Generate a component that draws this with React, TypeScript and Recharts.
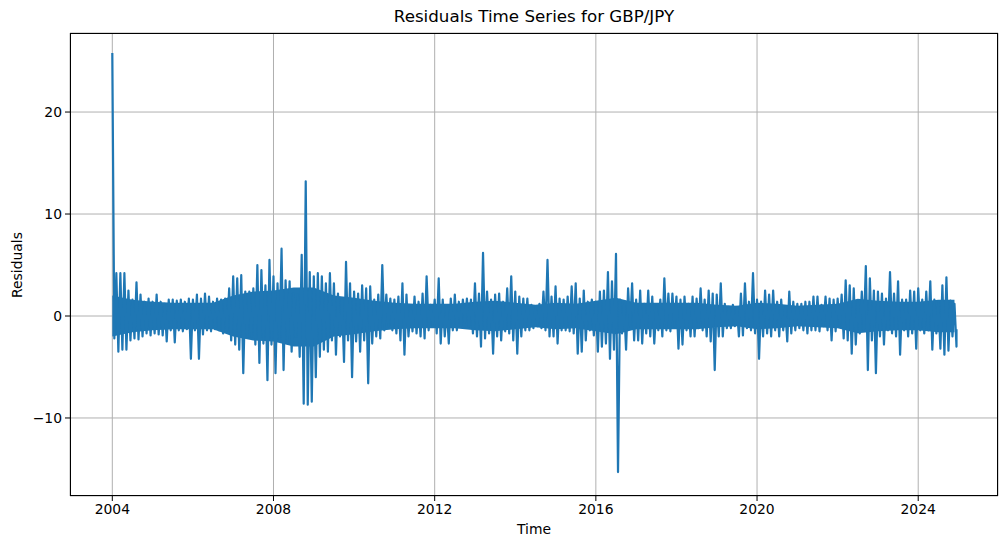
import React from "react"
import { Area, CartesianGrid, ComposedChart, Line, XAxis, YAxis } from "recharts"

// residuals, one high / low pair per 0.1 year, from 2004.0
const START_YEAR = 2004
const STEP = 0.1

const highs = [
  25.8, 4.2, 4.2, 4.2, 2.5, 1.6, 3.3, 2.1, 1.4, 1.7,
  1.4, 2.1, 1.4, 1.2, 1.6, 1.6, 1.5, 1.6, 1.4, 1.7,
  1.6, 2.1, 1.7, 2.2, 1.9, 1.4, 1.7, 1.6, 1.7, 2.7,
  3.9, 3.7, 4.0, 2.4, 2.4, 2.7, 5.0, 4.5, 3.0, 5.5,
  3.9, 3.2, 6.6, 3.5, 3.4, 2.2, 2.1, 6.0, 13.2, 4.3,
  3.9, 4.2, 3.9, 3.2, 4.2, 3.2, 2.2, 1.6, 5.3, 3.2,
  2.4, 2.2, 3.0, 2.7, 2.9, 1.6, 2.1, 5.0, 2.1, 1.7,
  1.6, 1.9, 3.2, 2.1, 0.9, 1.9, 1.4, 2.2, 3.9, 1.1,
  1.6, 3.7, 1.6, 0.9, 1.7, 2.1, 1.4, 1.6, 1.7, 1.6,
  3.2, 2.2, 6.2, 2.4, 1.6, 2.1, 2.2, 1.4, 2.7, 3.9,
  2.4, 1.9, 1.7, 1.7, 1.1, 0.9, 1.2, 2.4, 5.5, 1.9,
  2.9, 1.7, 1.6, 1.9, 2.9, 3.2, 1.7, 2.5, 1.4, 1.6,
  1.4, 2.4, 2.5, 4.3, 3.4, 6.1, 1.6, 1.1, 2.7, 3.2,
  1.6, 2.5, 1.2, 2.5, 1.9, 0.9, 1.6, 3.7, 2.2, 2.2,
  1.9, 1.6, 1.9, 1.2, 1.9, 1.7, 2.7, 1.6, 2.5, 2.2,
  2.1, 3.2, 1.2, 0.9, 1.1, 0.9, 2.2, 3.2, 1.4, 4.2,
  1.6, 1.4, 2.5, 2.1, 2.5, 1.4, 1.6, 0.9, 2.4, 1.4,
  1.2, 1.2, 1.4, 1.4, 1.9, 1.9, 1.1, 1.9, 1.7, 1.6,
  1.7, 2.1, 3.5, 3.0, 2.7, 1.4, 2.4, 4.9, 3.7, 2.5,
  2.4, 2.2, 1.7, 4.3, 2.2, 3.4, 1.6, 1.6, 2.5, 2.4,
  2.7, 1.6, 2.4, 3.4, 1.6, 1.4, 3.0, 3.8, 1.5, 1.2,
]

const lows = [
  -2.2, -3.5, -3.3, -3.3, -2.4, -2.2, -2.3, -2.0, -1.7, -1.9,
  -1.7, -1.8, -1.9, -2.5, -1.4, -2.6, -1.4, -1.5, -1.3, -4.2,
  -1.4, -4.2, -1.8, -1.4, -1.5, -1.3, -1.4, -1.7, -1.4, -2.4,
  -2.8, -3.3, -5.6, -2.0, -2.0, -2.8, -4.6, -2.7, -6.3, -2.8,
  -5.6, -2.4, -5.3, -2.7, -3.5, -2.0, -4.0, -8.6, -8.7, -8.4,
  -6.0, -4.0, -3.3, -3.5, -2.4, -3.8, -2.0, -4.5, -2.4, -6.0,
  -2.5, -3.5, -2.4, -6.6, -2.7, -2.0, -2.2, -1.4, -1.0, -1.4,
  -1.7, -2.4, -3.8, -2.0, -1.5, -1.7, -2.0, -2.2, -1.4, -1.0,
  -1.7, -2.7, -2.0, -2.7, -1.4, -1.4, -1.0, -0.6, -1.0, -1.7,
  -2.0, -3.0, -2.2, -1.7, -3.7, -2.0, -2.4, -1.5, -1.7, -2.4,
  -3.7, -2.0, -1.4, -1.4, -1.2, -1.0, -1.2, -1.4, -2.0, -2.0,
  -2.7, -1.4, -1.4, -1.5, -1.7, -3.7, -3.5, -2.4, -1.4, -1.9,
  -3.5, -3.0, -2.7, -4.2, -3.3, -15.3, -1.7, -3.3, -1.0, -2.4,
  -2.4, -2.7, -1.7, -2.0, -2.7, -1.4, -2.0, -1.4, -1.5, -1.0,
  -3.2, -2.8, -1.4, -2.0, -2.0, -1.2, -1.4, -2.0, -2.5, -5.3,
  -2.0, -2.0, -1.2, -1.2, -1.0, -2.0, -1.9, -1.2, -1.4, -1.7,
  -4.2, -2.0, -1.7, -2.0, -1.4, -2.0, -1.4, -2.5, -1.7, -1.4,
  -1.2, -1.4, -1.7, -1.4, -1.4, -1.5, -1.0, -1.4, -2.4, -1.5,
  -1.0, -2.2, -2.4, -3.7, -2.8, -1.7, -1.4, -5.3, -2.4, -5.6,
  -2.0, -2.8, -1.4, -1.7, -2.0, -3.8, -1.4, -2.0, -1.7, -3.2,
  -1.4, -1.7, -1.4, -3.3, -1.7, -3.2, -3.8, -3.4, -2.0, -3.0,
]

const lastResidual = -1.3

// solid core of the band, every half year from 2004.0, last one at 2024.9
const coreHighs = [
  2.0, 1.6, 1.4, 1.3, 1.3, 1.3, 2.0, 2.4, 2.5, 2.8,
  2.8, 2.0, 1.8, 1.5, 1.3, 1.2, 1.2, 1.2, 1.4, 1.5,
  1.3, 1.1, 1.3, 1.2, 1.5, 1.8, 1.3, 1.3, 1.3, 1.3,
  1.1, 1.0, 1.3, 1.2, 1.0, 1.1, 1.2, 1.7, 1.5, 1.4,
  1.4, 1.6, 1.6,
]
const coreLows = [
  -2.0, -1.6, -1.4, -1.3, -1.3, -1.3, -2.0, -2.4, -2.5, -3.0,
  -3.0, -2.0, -1.8, -1.5, -1.3, -1.2, -1.2, -1.2, -1.4, -1.5,
  -1.3, -1.1, -1.3, -1.2, -1.5, -1.8, -1.3, -1.3, -1.3, -1.3,
  -1.1, -1.0, -1.3, -1.2, -1.0, -1.1, -1.2, -1.7, -1.5, -1.4,
  -1.4, -1.6, -1.6,
]

const yearTicks = [2004, 2008, 2012, 2016, 2020, 2024]
const residualTicks = [-10, 0, 10, 20]

type Row = { t: number; v: number; core?: [number, number] }

const data: Row[] = []
highs.forEach((h, i) => {
  const t = START_YEAR + i * STEP
  const row: Row = { t, v: h }
  if (i % 5 === 0) {
    const k = i / 5
    row.core = [coreLows[k], coreHighs[k]]
  } else if (i === highs.length - 1) {
    const k = coreHighs.length - 1
    row.core = [coreLows[k], coreHighs[k]]
  }
  data.push(row)
  data.push({ t: t + STEP / 2, v: lows[i] })
})
data.push({ t: START_YEAR + highs.length * STEP - 0.05, v: lastResidual })

const FONT = "'DejaVu Sans', sans-serif"
const tickStyle = { fill: "#000", fontSize: 13.9, fontFamily: FONT }
const BLUE = "#1f77b4"

// plot box in page pixels
const PLOT = { left: 70, top: 33, right: 998, bottom: 496 }

function formatResidual(v: number) {
  return String(v).replace("-", "\u2212")
}

export default function App() {
  return (
    <div
      style={{
        position: "absolute",
        left: 0,
        top: 0,
        width: 1008,
        height: 547,
        background: "#fff",
        fontFamily: FONT,
      }}
    >
      <div
        style={{
          position: "absolute",
          left: PLOT.left,
          width: PLOT.right - PLOT.left,
          top: 6,
          textAlign: "center",
          fontSize: 16.7,
          lineHeight: "20px",
          color: "#000",
        }}
      >
        Residuals Time Series for GBP/JPY
      </div>

      <ComposedChart
        width={1008}
        height={547}
        data={data}
        margin={{ top: PLOT.top, right: 1008 - PLOT.right, bottom: 21, left: 10 }}
      >
        <CartesianGrid stroke="#b0b0b0" strokeWidth={1} />
        <XAxis
          dataKey="t"
          type="number"
          domain={[2002.95, 2025.98]}
          ticks={yearTicks}
          allowDataOverflow
          height={30}
          axisLine={false}
          tickLine={{ stroke: "#000" }}
          tickSize={5}
          tickMargin={3}
          tick={tickStyle}
        />
        <YAxis
          type="number"
          domain={[-17.65, 27.75]}
          ticks={residualTicks}
          allowDataOverflow
          width={60}
          axisLine={false}
          tickLine={{ stroke: "#000" }}
          tickSize={5}
          tickMargin={3}
          tick={tickStyle}
          tickFormatter={formatResidual}
        />
        <Area
          dataKey="core"
          type="linear"
          stroke="none"
          fill={BLUE}
          fillOpacity={1}
          connectNulls
          dot={false}
          activeDot={false}
          isAnimationActive={false}
        />
        <Line
          dataKey="v"
          type="linear"
          stroke={BLUE}
          strokeWidth={2.2}
          strokeLinejoin="round"
          dot={false}
          activeDot={false}
          isAnimationActive={false}
        />
      </ComposedChart>

      <div
        style={{
          position: "absolute",
          left: PLOT.left,
          top: PLOT.top,
          width: PLOT.right - PLOT.left,
          height: PLOT.bottom - PLOT.top,
          border: "1px solid #000",
          boxSizing: "border-box",
          pointerEvents: "none",
        }}
      />

      <div
        style={{
          position: "absolute",
          left: PLOT.left,
          width: PLOT.right - PLOT.left,
          top: 520,
          textAlign: "center",
          fontSize: 13.9,
          lineHeight: "18px",
          color: "#000",
        }}
      >
        Time
      </div>
      <div
        style={{
          position: "absolute",
          left: 17,
          top: (PLOT.top + PLOT.bottom) / 2,
          transform: "translate(-50%, -50%) rotate(-90deg)",
          fontSize: 13.9,
          lineHeight: "18px",
          color: "#000",
          whiteSpace: "nowrap",
        }}
      >
        Residuals
      </div>
    </div>
  )
}
